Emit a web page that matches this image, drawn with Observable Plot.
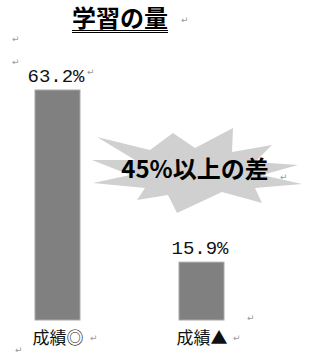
<!DOCTYPE html>
<html><head><meta charset="utf-8">
<script src="https://cdn.jsdelivr.net/npm/d3@7"></script>
<script src="https://cdn.jsdelivr.net/npm/@observablehq/plot@0.6"></script>
<style>
body{margin:0;background:#fff;width:311px;height:361px;overflow:hidden;position:relative;font-family:"Noto Sans CJK JP",sans-serif;}
#title{height:45px;box-sizing:border-box;padding-left:72px;padding-top:3px;font-size:24px;font-weight:bold;line-height:28px;color:#000;}
#title span{text-decoration:underline double;text-underline-offset:3px;text-decoration-thickness:1px;}
.ret{position:absolute;font-family:"DejaVu Sans",sans-serif;font-size:9px;color:#999;line-height:1;}
</style></head><body>
<div id="title"><span></span></div>
<div id="chart"></div>
<script>
const titleText = "学習の量";
const categories = ["成績◎", "成績▲"];
const values = [63.2, 15.9];
const valueLabels = ["63.2%", "15.9%"];
const calloutText = "45%以上の差";

document.querySelector("#title span").textContent = titleText;

const data = categories.map((c, i) => ({category: c, value: values[i], label: valueLabels[i]}));

const plot = Plot.plot({
  width: 311,
  height: 316,
  marginTop: 45,
  marginBottom: 41,
  marginLeft: 35,
  marginRight: 87,
  x: {domain: categories, paddingInner: 0.6875, paddingOuter: 0, axis: null},
  y: {domain: [0, d3.max(values)], axis: null},
  style: {fontFamily: "Noto Sans CJK JP", background: "white", overflow: "visible"},
  marks: [
    Plot.barY(data, {x: "category", y: "value", fill: "#808080", stroke: "#a8a8a8", strokeWidth: 1}),
    Plot.text(data, {x: "category", y: "value", text: "label", dy: -9, dx: -2, lineAnchor: "bottom",
      fontFamily: "Liberation Mono", fontSize: 19, fill: "#111"}),
    Plot.text(data, {x: "category", text: "category", frameAnchor: "bottom", dy: 18,
      lineAnchor: "middle", fontSize: 17, fill: "#111"})
  ]
});
document.getElementById("chart").appendChild(plot);

// starburst callout decoration (shape offsets around its centre)
const starShape = [[-100,-33],[-47,-20],[-24,-37],[-2,-22],[36,-42],[35,-18],[75,-25],[58,-8],
  [101,-5],[65,5],[105,14],[58,18],[65,33],[25,22],[-20,43],[-29,25],[-60,30],[-52,18],
  [-104,13],[-67,5],[-105,-10],[-62,-10]];
const svg = d3.select(plot);
const cx = 197, cy = 125;
const g = svg.append("g").attr("transform", `translate(${cx},${cy})`);
g.append("path")
  .attr("d", "M" + starShape.map(p => p.join(",")).join("L") + "Z")
  .attr("fill", "#d0d0d0");
g.append("text")
  .attr("x", -2).attr("y", 1)
  .attr("text-anchor", "middle").attr("dominant-baseline", "middle")
  .attr("font-family", "Noto Sans CJK JP").attr("font-weight", "bold")
  .attr("font-size", 24).attr("fill", "#000")
  .text(calloutText);

// Word paragraph marks
const marks = [[181,16],[12,35],[12,58],[87,68],[280,173],[247,314],[90,334],[233,334],[15,346]];
marks.forEach(([x, y]) => {
  const s = document.createElement("span");
  s.className = "ret"; s.textContent = "↵";
  s.style.left = x + "px"; s.style.top = y + "px";
  document.body.appendChild(s);
});
</script>
</body></html>
